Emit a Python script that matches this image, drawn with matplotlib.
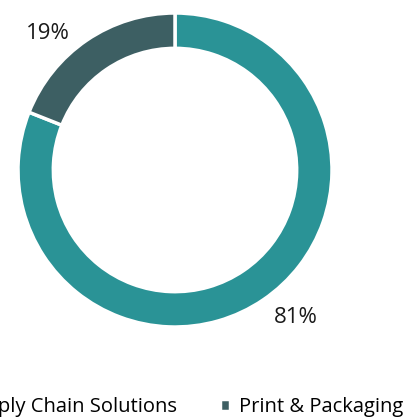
import matplotlib.pyplot as plt

plt.rcParams['font.family'] = ['Open Sans', 'DejaVu Sans']

# segments of the donut, clockwise from 12 o'clock
segments = ["Supply Chain Solutions", "Print & Packaging"]
shares = [81, 19]
colors = ["#2A9396", "#3D5F63"]
pct_labels = ["81%", "19%"]
# label anchor points in data units (pie radius = 1)
label_pos = [(0.77, -0.94), (-0.81, 0.87)]

fig = plt.figure(figsize=(4.06, 4.19), dpi=100)
ax = fig.add_axes([18 / 406, 1 - 327 / 419, 314 / 406, 314 / 419])

wedges, _ = ax.pie(shares, colors=colors, startangle=90, counterclock=False,
                   radius=1, wedgeprops=dict(width=0.225, edgecolor="white", linewidth=2.5))
ax.set_xlim(-1, 1)
ax.set_ylim(-1, 1)
ax.set_aspect("equal")

for txt, (x, y) in zip(pct_labels, label_pos):
    ax.text(x, y, txt, ha="center", va="center", fontsize=16, color="#1a1a1a")

fig.legend(wedges, segments, loc="center", bbox_to_anchor=(173 / 406, 1 - 407 / 419),
           ncol=2, frameon=False, fontsize=14.5, handlelength=0.5, handleheight=0.5,
           handletextpad=0.45, columnspacing=2.1, borderpad=0)

fig.savefig("out.png", dpi=100)
